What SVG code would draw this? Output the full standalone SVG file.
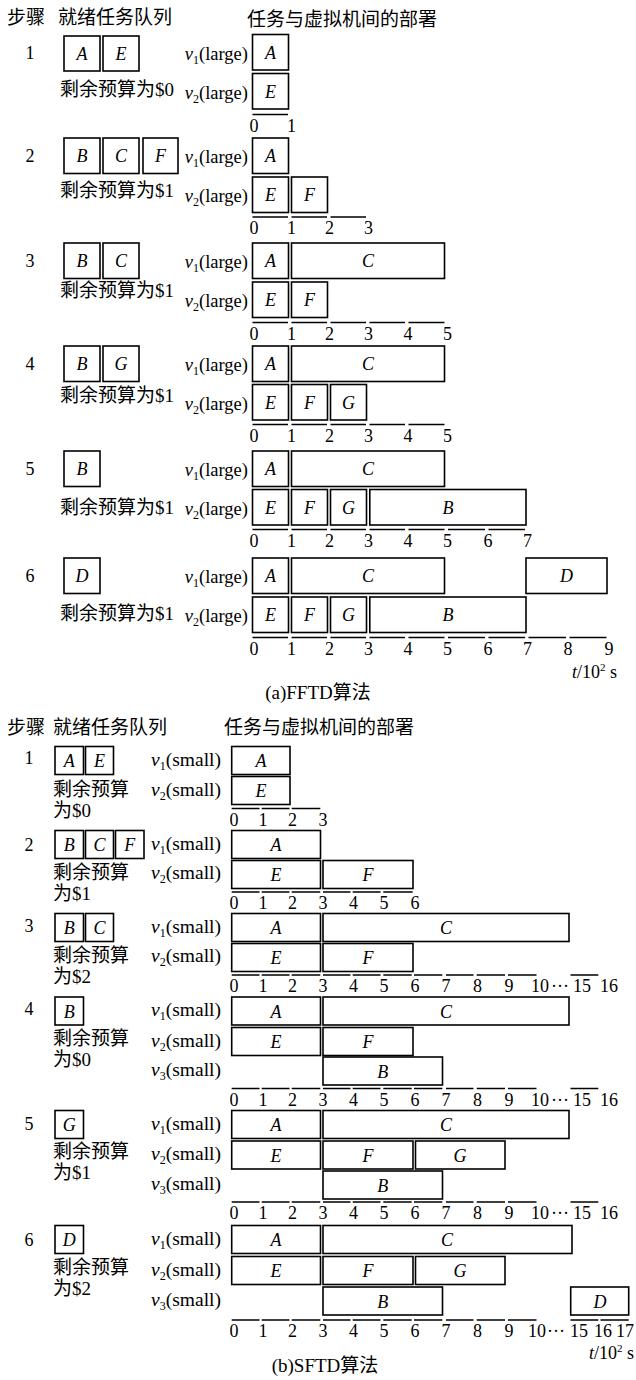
<svg xmlns="http://www.w3.org/2000/svg" width="636" height="1380" viewBox="0 0 636 1380">
<style>
.bx{fill:#fff;stroke:#000;stroke-width:1.6}
.ax{stroke:#000;stroke-width:1.5;fill:none}
text{font-family:"Liberation Serif","Noto Sans CJK SC",serif;font-size:18px;fill:#000}
.lt{font-style:italic;text-anchor:middle}
.tk{text-anchor:middle}
.va{text-anchor:end;font-size:18.5px}
.vb{text-anchor:end;font-size:19.5px}
.sub{font-size:12px}
.cj{font-size:19px}
.it{font-style:italic}
</style>
<rect width="636" height="1380" fill="#fff"/>

<!-- ================= Part (a) ================= -->
<g id="a-header">
<text class="cj" x="7" y="24">步骤</text>
<text class="cj" x="58" y="24">就绪任务队列</text>
<text class="cj" x="247" y="26">任务与虚拟机间的部署</text>
</g>

<!-- Step 1 -->
<g id="a-s1">
<text x="30" y="59" class="tk">1</text>
<g id="a1-q-A"><rect class="bx" x="64" y="36" width="36" height="35"/><text class="lt" x="82" y="60">A</text></g>
<g id="a1-q-E"><rect class="bx" x="103" y="36" width="36" height="35"/><text class="lt" x="121" y="60">E</text></g>
<text class="cj" x="60" y="96">剩余预算为$0</text>
<text class="va" x="248" y="59.5"><tspan class="it">v</tspan><tspan class="sub" dy="4">1</tspan><tspan dy="-4">(large)</tspan></text>
<text class="va" x="248" y="98.5"><tspan class="it">v</tspan><tspan class="sub" dy="4">2</tspan><tspan dy="-4">(large)</tspan></text>
<g id="a1-v1-A"><rect class="bx" x="252.5" y="34.5" width="36" height="35.5"/><text class="lt" x="270.5" y="58.5">A</text></g>
<g id="a1-v2-E"><rect class="bx" x="252.5" y="73.5" width="36" height="35.5"/><text class="lt" x="270.5" y="97.5">E</text></g>
</g>

<!-- Step 2 -->
<g id="a-s2">
<text x="30" y="161.5" class="tk">2</text>
<g id="a2-q-B"><rect class="bx" x="64" y="138" width="36" height="35.5"/><text class="lt" x="82" y="162">B</text></g>
<g id="a2-q-C"><rect class="bx" x="103" y="138" width="36" height="35.5"/><text class="lt" x="121" y="162">C</text></g>
<g id="a2-q-F"><rect class="bx" x="143" y="138" width="35" height="35.5"/><text class="lt" x="160.5" y="162">F</text></g>
<text class="cj" x="60" y="197">剩余预算为$1</text>
<text class="va" x="248" y="163"><tspan class="it">v</tspan><tspan class="sub" dy="4">1</tspan><tspan dy="-4">(large)</tspan></text>
<text class="va" x="248" y="202"><tspan class="it">v</tspan><tspan class="sub" dy="4">2</tspan><tspan dy="-4">(large)</tspan></text>
<g id="a2-v1-A"><rect class="bx" x="252.5" y="138" width="36" height="35.5"/><text class="lt" x="270.5" y="162">A</text></g>
<g id="a2-v2-E"><rect class="bx" x="252.5" y="177" width="36" height="35.5"/><text class="lt" x="270.5" y="201">E</text></g>
<g id="a2-v2-F"><rect class="bx" x="291.5" y="177" width="36" height="35.5"/><text class="lt" x="309.5" y="201">F</text></g>
</g>

<!-- Step 3 -->
<g id="a-s3">
<text x="30" y="266.5" class="tk">3</text>
<g id="a3-q-B"><rect class="bx" x="64" y="243" width="36" height="35.5"/><text class="lt" x="82" y="267">B</text></g>
<g id="a3-q-C"><rect class="bx" x="103" y="243" width="36" height="35.5"/><text class="lt" x="121" y="267">C</text></g>
<text class="cj" x="60" y="297">剩余预算为$1</text>
<text class="va" x="248" y="268"><tspan class="it">v</tspan><tspan class="sub" dy="4">1</tspan><tspan dy="-4">(large)</tspan></text>
<text class="va" x="248" y="307"><tspan class="it">v</tspan><tspan class="sub" dy="4">2</tspan><tspan dy="-4">(large)</tspan></text>
<g id="a3-v1-A"><rect class="bx" x="252.5" y="243" width="36" height="35.5"/><text class="lt" x="270.5" y="267">A</text></g>
<g id="a3-v1-C"><rect class="bx" x="291.5" y="243" width="153" height="35.5"/><text class="lt" x="368" y="267">C</text></g>
<g id="a3-v2-E"><rect class="bx" x="252.5" y="282" width="36" height="35.5"/><text class="lt" x="270.5" y="306">E</text></g>
<g id="a3-v2-F"><rect class="bx" x="291.5" y="282" width="36" height="35.5"/><text class="lt" x="309.5" y="306">F</text></g>
</g>

<!-- Step 4 -->
<g id="a-s4">
<text x="30" y="369.5" class="tk">4</text>
<g id="a4-q-B"><rect class="bx" x="64" y="346" width="36" height="35.5"/><text class="lt" x="82" y="370">B</text></g>
<g id="a4-q-G"><rect class="bx" x="103" y="346" width="36" height="35.5"/><text class="lt" x="121" y="370">G</text></g>
<text class="cj" x="60" y="402">剩余预算为$1</text>
<text class="va" x="248" y="371"><tspan class="it">v</tspan><tspan class="sub" dy="4">1</tspan><tspan dy="-4">(large)</tspan></text>
<text class="va" x="248" y="409.5"><tspan class="it">v</tspan><tspan class="sub" dy="4">2</tspan><tspan dy="-4">(large)</tspan></text>
<g id="a4-v1-A"><rect class="bx" x="252.5" y="346" width="36" height="35.5"/><text class="lt" x="270.5" y="370">A</text></g>
<g id="a4-v1-C"><rect class="bx" x="291.5" y="346" width="153" height="35.5"/><text class="lt" x="368" y="370">C</text></g>
<g id="a4-v2-E"><rect class="bx" x="252.5" y="384.5" width="36" height="35.5"/><text class="lt" x="270.5" y="408.5">E</text></g>
<g id="a4-v2-F"><rect class="bx" x="291.5" y="384.5" width="36" height="35.5"/><text class="lt" x="309.5" y="408.5">F</text></g>
<g id="a4-v2-G"><rect class="bx" x="330.5" y="384.5" width="36" height="35.5"/><text class="lt" x="348.5" y="408.5">G</text></g>
</g>

<!-- Step 5 -->
<g id="a-s5">
<text x="30" y="474.5" class="tk">5</text>
<g id="a5-q-B"><rect class="bx" x="64" y="451" width="36" height="35.5"/><text class="lt" x="82" y="475">B</text></g>
<text class="cj" x="60" y="514">剩余预算为$1</text>
<text class="va" x="248" y="476"><tspan class="it">v</tspan><tspan class="sub" dy="4">1</tspan><tspan dy="-4">(large)</tspan></text>
<text class="va" x="248" y="514.5"><tspan class="it">v</tspan><tspan class="sub" dy="4">2</tspan><tspan dy="-4">(large)</tspan></text>
<g id="a5-v1-A"><rect class="bx" x="252.5" y="451" width="36" height="35.5"/><text class="lt" x="270.5" y="475">A</text></g>
<g id="a5-v1-C"><rect class="bx" x="291.5" y="451" width="153" height="35.5"/><text class="lt" x="368" y="475">C</text></g>
<g id="a5-v2-E"><rect class="bx" x="252.5" y="489.5" width="36" height="35.5"/><text class="lt" x="270.5" y="513.5">E</text></g>
<g id="a5-v2-F"><rect class="bx" x="291.5" y="489.5" width="36" height="35.5"/><text class="lt" x="309.5" y="513.5">F</text></g>
<g id="a5-v2-G"><rect class="bx" x="330.5" y="489.5" width="36" height="35.5"/><text class="lt" x="348.5" y="513.5">G</text></g>
<g id="a5-v2-B"><rect class="bx" x="369.8" y="489.5" width="156.2" height="35.5"/><text class="lt" x="448" y="513.5">B</text></g>
</g>

<!-- Step 6 -->
<g id="a-s6">
<text x="30" y="582" class="tk">6</text>
<g id="a6-q-D"><rect class="bx" x="64" y="558" width="36" height="35.5"/><text class="lt" x="82" y="582">D</text></g>
<text class="cj" x="60" y="620">剩余预算为$1</text>
<text class="va" x="248" y="583"><tspan class="it">v</tspan><tspan class="sub" dy="4">1</tspan><tspan dy="-4">(large)</tspan></text>
<text class="va" x="248" y="622"><tspan class="it">v</tspan><tspan class="sub" dy="4">2</tspan><tspan dy="-4">(large)</tspan></text>
<g id="a6-v1-A"><rect class="bx" x="252.5" y="558" width="36" height="35.5"/><text class="lt" x="270.5" y="582">A</text></g>
<g id="a6-v1-C"><rect class="bx" x="291.5" y="558" width="153" height="35.5"/><text class="lt" x="368" y="582">C</text></g>
<g id="a6-v1-D"><rect class="bx" x="526" y="558" width="81" height="35.5"/><text class="lt" x="566.5" y="582">D</text></g>
<g id="a6-v2-E"><rect class="bx" x="252.5" y="597" width="36" height="35.5"/><text class="lt" x="270.5" y="621">E</text></g>
<g id="a6-v2-F"><rect class="bx" x="291.5" y="597" width="36" height="35.5"/><text class="lt" x="309.5" y="621">F</text></g>
<g id="a6-v2-G"><rect class="bx" x="330.5" y="597" width="36" height="35.5"/><text class="lt" x="348.5" y="621">G</text></g>
<g id="a6-v2-B"><rect class="bx" x="369.8" y="597" width="156.2" height="35.5"/><text class="lt" x="448" y="621">B</text></g>
</g>

<g id="a-axes">
<path class="ax" d="M252.5 114.5H288"/>
<path class="ax" d="M252.5 217H288M291.5 217H327M330.5 217H366"/>
<path class="ax" d="M252.5 322.5H288M291.5 322.5H327M330.5 322.5H366M369.5 322.5H405M408.5 322.5H444.5"/>
<path class="ax" d="M252.5 424.5H288M291.5 424.5H327M330.5 424.5H366M369.5 424.5H405M408.5 424.5H444.5"/>
<path class="ax" d="M252.5 529.5H288M291.5 529.5H327M330.5 529.5H366M369.5 529.5H405M408.5 529.5H444.5M448 529.5H485M488.5 529.5H525"/>
<path class="ax" d="M252.5 637.5H288M291.5 637.5H327M330.5 637.5H366M369.5 637.5H405M408.5 637.5H444.5M448 637.5H485M488.5 637.5H525M528.5 637.5H566M569.5 637.5H606.5"/>
</g>
<g id="a-ticks" class="tk">
<text class="tk" x="254" y="131.5">0</text><text class="tk" x="291.5" y="131.5">1</text>
<text class="tk" x="254" y="234">0</text><text class="tk" x="291.5" y="234">1</text><text class="tk" x="329.5" y="234">2</text><text class="tk" x="368.5" y="234">3</text>
<text class="tk" x="254" y="339.5">0</text><text class="tk" x="291.5" y="339.5">1</text><text class="tk" x="329.5" y="339.5">2</text><text class="tk" x="368.5" y="339.5">3</text><text class="tk" x="408" y="339.5">4</text><text class="tk" x="447.5" y="339.5">5</text>
<text class="tk" x="254" y="441.5">0</text><text class="tk" x="291.5" y="441.5">1</text><text class="tk" x="329.5" y="441.5">2</text><text class="tk" x="368.5" y="441.5">3</text><text class="tk" x="408" y="441.5">4</text><text class="tk" x="447.5" y="441.5">5</text>
<text class="tk" x="254" y="546.5">0</text><text class="tk" x="291.5" y="546.5">1</text><text class="tk" x="329.5" y="546.5">2</text><text class="tk" x="368.5" y="546.5">3</text><text class="tk" x="408" y="546.5">4</text><text class="tk" x="447.5" y="546.5">5</text><text class="tk" x="488" y="546.5">6</text><text class="tk" x="527.5" y="546.5">7</text>
<text class="tk" x="254" y="654.5">0</text><text class="tk" x="291.5" y="654.5">1</text><text class="tk" x="329.5" y="654.5">2</text><text class="tk" x="368.5" y="654.5">3</text><text class="tk" x="408" y="654.5">4</text><text class="tk" x="447.5" y="654.5">5</text><text class="tk" x="488" y="654.5">6</text><text class="tk" x="527.5" y="654.5">7</text><text class="tk" x="568" y="654.5">8</text><text class="tk" x="609" y="654.5">9</text>
</g>
<text x="617" y="678" text-anchor="end"><tspan class="it">t</tspan>/10<tspan font-size="11" dy="-7">2</tspan><tspan dy="7"> s</tspan></text>
<text class="cj" x="318" y="699" text-anchor="middle">(a)FFTD算法</text>

<!-- ================= Part (b) ================= -->
<g id="b-header">
<text class="cj" x="7" y="734">步骤</text>
<text class="cj" x="53" y="734">就绪任务队列</text>
<text class="cj" x="224" y="734">任务与虚拟机间的部署</text>
</g>

<!-- Step 1 -->
<g id="b-s1">
<text x="29" y="764" class="tk">1</text>
<g id="b1-q-A"><rect class="bx" x="55" y="746.5" width="28.5" height="28"/><text class="lt" x="69.3" y="767">A</text></g>
<g id="b1-q-E"><rect class="bx" x="85.5" y="746.5" width="28" height="28"/><text class="lt" x="99.5" y="767">E</text></g>
<text class="cj" x="53" y="796">剩余预算</text>
<text class="cj" x="53" y="817">为$0</text>
<text class="vb" x="221" y="766"><tspan class="it">v</tspan><tspan class="sub" dy="4">1</tspan><tspan dy="-4">(small)</tspan></text>
<text class="vb" x="221" y="796"><tspan class="it">v</tspan><tspan class="sub" dy="4">2</tspan><tspan dy="-4">(small)</tspan></text>
<g id="b1-v1-A"><rect class="bx" x="231.7" y="746.5" width="58.3" height="28"/><text class="lt" x="261" y="767">A</text></g>
<g id="b1-v2-E"><rect class="bx" x="231.7" y="776.5" width="58.3" height="28"/><text class="lt" x="261" y="797">E</text></g>
</g>

<!-- Step 2 -->
<g id="b-s2">
<text x="29" y="851" class="tk">2</text>
<g id="b2-q-B"><rect class="bx" x="55" y="830.5" width="28.5" height="28"/><text class="lt" x="69.3" y="851">B</text></g>
<g id="b2-q-C"><rect class="bx" x="85.5" y="830.5" width="28" height="28"/><text class="lt" x="99.5" y="851">C</text></g>
<g id="b2-q-F"><rect class="bx" x="115.5" y="830.5" width="28.5" height="28"/><text class="lt" x="129.7" y="851">F</text></g>
<text class="cj" x="53" y="879">剩余预算</text>
<text class="cj" x="53" y="900">为$1</text>
<text class="vb" x="221" y="850"><tspan class="it">v</tspan><tspan class="sub" dy="4">1</tspan><tspan dy="-4">(small)</tspan></text>
<text class="vb" x="221" y="879"><tspan class="it">v</tspan><tspan class="sub" dy="4">2</tspan><tspan dy="-4">(small)</tspan></text>
<g id="b2-v1-A"><rect class="bx" x="231.7" y="830.5" width="88.8" height="28"/><text class="lt" x="276" y="851">A</text></g>
<g id="b2-v2-E"><rect class="bx" x="231.7" y="860.5" width="88.8" height="28"/><text class="lt" x="276" y="881">E</text></g>
<g id="b2-v2-F"><rect class="bx" x="323" y="860.5" width="90" height="28"/><text class="lt" x="368" y="881">F</text></g>
</g>

<!-- Step 3 -->
<g id="b-s3">
<text x="29" y="932" class="tk">3</text>
<g id="b3-q-B"><rect class="bx" x="55" y="913.5" width="28.5" height="28"/><text class="lt" x="69.3" y="934">B</text></g>
<g id="b3-q-C"><rect class="bx" x="85.5" y="913.5" width="28" height="28"/><text class="lt" x="99.5" y="934">C</text></g>
<text class="cj" x="53" y="962">剩余预算</text>
<text class="cj" x="53" y="983">为$2</text>
<text class="vb" x="221" y="933"><tspan class="it">v</tspan><tspan class="sub" dy="4">1</tspan><tspan dy="-4">(small)</tspan></text>
<text class="vb" x="221" y="962"><tspan class="it">v</tspan><tspan class="sub" dy="4">2</tspan><tspan dy="-4">(small)</tspan></text>
<g id="b3-v1-A"><rect class="bx" x="231.7" y="913.5" width="88.8" height="28"/><text class="lt" x="276" y="934">A</text></g>
<g id="b3-v1-C"><rect class="bx" x="323" y="913.5" width="246" height="28"/><text class="lt" x="446" y="934">C</text></g>
<g id="b3-v2-E"><rect class="bx" x="231.7" y="943.5" width="88.8" height="28"/><text class="lt" x="276" y="964">E</text></g>
<g id="b3-v2-F"><rect class="bx" x="323" y="943.5" width="90" height="28"/><text class="lt" x="368" y="964">F</text></g>
</g>

<!-- Step 4 -->
<g id="b-s4">
<text x="29" y="1014.5" class="tk">4</text>
<g id="b4-q-B"><rect class="bx" x="55" y="997" width="28.5" height="28"/><text class="lt" x="69.3" y="1017.5">B</text></g>
<text class="cj" x="53" y="1045">剩余预算</text>
<text class="cj" x="53" y="1066">为$0</text>
<text class="vb" x="221" y="1016"><tspan class="it">v</tspan><tspan class="sub" dy="4">1</tspan><tspan dy="-4">(small)</tspan></text>
<text class="vb" x="221" y="1046.5"><tspan class="it">v</tspan><tspan class="sub" dy="4">2</tspan><tspan dy="-4">(small)</tspan></text>
<text class="vb" x="221" y="1076"><tspan class="it">v</tspan><tspan class="sub" dy="4">3</tspan><tspan dy="-4">(small)</tspan></text>
<g id="b4-v1-A"><rect class="bx" x="231.7" y="997" width="88.8" height="28"/><text class="lt" x="276" y="1017.5">A</text></g>
<g id="b4-v1-C"><rect class="bx" x="323" y="997" width="246" height="28"/><text class="lt" x="446" y="1017.5">C</text></g>
<g id="b4-v2-E"><rect class="bx" x="231.7" y="1027.5" width="88.8" height="28"/><text class="lt" x="276" y="1048">E</text></g>
<g id="b4-v2-F"><rect class="bx" x="323" y="1027.5" width="90" height="28"/><text class="lt" x="368" y="1048">F</text></g>
<g id="b4-v3-B"><rect class="bx" x="323" y="1057" width="119.5" height="28"/><text class="lt" x="382.7" y="1077.5">B</text></g>
</g>

<!-- Step 5 -->
<g id="b-s5">
<text x="29" y="1130" class="tk">5</text>
<g id="b5-q-G"><rect class="bx" x="55" y="1110.5" width="28.5" height="28"/><text class="lt" x="69.3" y="1131">G</text></g>
<text class="cj" x="53" y="1158">剩余预算</text>
<text class="cj" x="53" y="1179">为$1</text>
<text class="vb" x="221" y="1129.5"><tspan class="it">v</tspan><tspan class="sub" dy="4">1</tspan><tspan dy="-4">(small)</tspan></text>
<text class="vb" x="221" y="1160"><tspan class="it">v</tspan><tspan class="sub" dy="4">2</tspan><tspan dy="-4">(small)</tspan></text>
<text class="vb" x="221" y="1190"><tspan class="it">v</tspan><tspan class="sub" dy="4">3</tspan><tspan dy="-4">(small)</tspan></text>
<g id="b5-v1-A"><rect class="bx" x="231.7" y="1110.5" width="88.8" height="28"/><text class="lt" x="276" y="1131">A</text></g>
<g id="b5-v1-C"><rect class="bx" x="323" y="1110.5" width="246" height="28"/><text class="lt" x="446" y="1131">C</text></g>
<g id="b5-v2-E"><rect class="bx" x="231.7" y="1141" width="88.8" height="28"/><text class="lt" x="276" y="1161.5">E</text></g>
<g id="b5-v2-F"><rect class="bx" x="323" y="1141" width="90" height="28"/><text class="lt" x="368" y="1161.5">F</text></g>
<g id="b5-v2-G"><rect class="bx" x="415.5" y="1141" width="89.5" height="28"/><text class="lt" x="460" y="1161.5">G</text></g>
<g id="b5-v3-B"><rect class="bx" x="323" y="1171" width="119.5" height="28"/><text class="lt" x="382.7" y="1191.5">B</text></g>
</g>

<!-- Step 6 -->
<g id="b-s6">
<text x="29" y="1246" class="tk">6</text>
<g id="b6-q-D"><rect class="bx" x="55" y="1225.5" width="28.5" height="28"/><text class="lt" x="69.3" y="1246">D</text></g>
<text class="cj" x="53" y="1274">剩余预算</text>
<text class="cj" x="53" y="1295">为$2</text>
<text class="vb" x="221" y="1244.5"><tspan class="it">v</tspan><tspan class="sub" dy="4">1</tspan><tspan dy="-4">(small)</tspan></text>
<text class="vb" x="221" y="1275.5"><tspan class="it">v</tspan><tspan class="sub" dy="4">2</tspan><tspan dy="-4">(small)</tspan></text>
<text class="vb" x="221" y="1306"><tspan class="it">v</tspan><tspan class="sub" dy="4">3</tspan><tspan dy="-4">(small)</tspan></text>
<g id="b6-v1-A"><rect class="bx" x="231.7" y="1225.5" width="88.8" height="28"/><text class="lt" x="276" y="1246">A</text></g>
<g id="b6-v1-C"><rect class="bx" x="323" y="1225.5" width="249" height="28"/><text class="lt" x="447" y="1246">C</text></g>
<g id="b6-v2-E"><rect class="bx" x="231.7" y="1256.5" width="88.8" height="28"/><text class="lt" x="276" y="1277">E</text></g>
<g id="b6-v2-F"><rect class="bx" x="323" y="1256.5" width="90" height="28"/><text class="lt" x="368" y="1277">F</text></g>
<g id="b6-v2-G"><rect class="bx" x="415.5" y="1256.5" width="89.5" height="28"/><text class="lt" x="460" y="1277">G</text></g>
<g id="b6-v3-B"><rect class="bx" x="323" y="1287" width="119.5" height="28"/><text class="lt" x="382.7" y="1307.5">B</text></g>
<g id="b6-v3-D"><rect class="bx" x="570.7" y="1287" width="58" height="28"/><text class="lt" x="600" y="1307.5">D</text></g>
</g>

<g id="b-axes">
<path class="ax" d="M231.7 808.5H259.5M261.7 808.5H289.5M291.7 808.5H320.3"/>
<path class="ax" d="M231.7 892H259.5M261.7 892H289.5M291.7 892H320.3M323 892H350.5M352.7 892H380.5M383.3 892H412.7"/>
<path class="ax" d="M231.7 975H259.5M261.7 975H289.5M291.7 975H320.3M323 975H350.5M352.7 975H380.5M383.3 975H411.7M414 975H442.3M446 975H473.5M476.7 975H505M508 975H536.5M570.5 975H598.3"/>
<path class="ax" d="M231.7 1088.5H259.5M261.7 1088.5H289.5M291.7 1088.5H320.3M323 1088.5H350.5M352.7 1088.5H380.5M383.3 1088.5H411.7M414 1088.5H442.3M446 1088.5H473.5M476.7 1088.5H505M508 1088.5H536.5M570.5 1088.5H598.3"/>
<path class="ax" d="M231.7 1202H259.5M261.7 1202H289.5M291.7 1202H320.3M323 1202H350.5M352.7 1202H380.5M383.3 1202H411.7M414 1202H442.3M446 1202H473.5M476.7 1202H505M508 1202H536.5M570.5 1202H598.3"/>
<path class="ax" d="M231.7 1320H259.5M261.7 1320H289.5M291.7 1320H320.3M323 1320H350.5M352.7 1320H380.5M383.3 1320H411.7M414 1320H442.3M446 1320H473.5M476.7 1320H505M508 1320H536.5M570.5 1320H598.3M600.5 1320H628.7"/>
</g>
<g id="b-ticks">
<text class="tk" x="234" y="825.5">0</text><text class="tk" x="263" y="825.5">1</text><text class="tk" x="292.5" y="825.5">2</text><text class="tk" x="323" y="825.5">3</text>
<text class="tk" x="234" y="909">0</text><text class="tk" x="263" y="909">1</text><text class="tk" x="292.5" y="909">2</text><text class="tk" x="323" y="909">3</text><text class="tk" x="353.5" y="909">4</text><text class="tk" x="384" y="909">5</text><text class="tk" x="415" y="909">6</text>
<text class="tk" x="234" y="992">0</text><text class="tk" x="263" y="992">1</text><text class="tk" x="292.5" y="992">2</text><text class="tk" x="323" y="992">3</text><text class="tk" x="353.5" y="992">4</text><text class="tk" x="384" y="992">5</text><text class="tk" x="415" y="992">6</text><text class="tk" x="446" y="992">7</text><text class="tk" x="477.5" y="992">8</text><text class="tk" x="509" y="992">9</text><text class="tk" x="540" y="992">10</text><text class="tk" x="560" y="992">···</text><text class="tk" x="582" y="992">15</text><text class="tk" x="609" y="992">16</text>
<text class="tk" x="234" y="1105.5">0</text><text class="tk" x="263" y="1105.5">1</text><text class="tk" x="292.5" y="1105.5">2</text><text class="tk" x="323" y="1105.5">3</text><text class="tk" x="353.5" y="1105.5">4</text><text class="tk" x="384" y="1105.5">5</text><text class="tk" x="415" y="1105.5">6</text><text class="tk" x="446" y="1105.5">7</text><text class="tk" x="477.5" y="1105.5">8</text><text class="tk" x="509" y="1105.5">9</text><text class="tk" x="540" y="1105.5">10</text><text class="tk" x="560" y="1105.5">···</text><text class="tk" x="582" y="1105.5">15</text><text class="tk" x="609" y="1105.5">16</text>
<text class="tk" x="234" y="1219">0</text><text class="tk" x="263" y="1219">1</text><text class="tk" x="292.5" y="1219">2</text><text class="tk" x="323" y="1219">3</text><text class="tk" x="353.5" y="1219">4</text><text class="tk" x="384" y="1219">5</text><text class="tk" x="415" y="1219">6</text><text class="tk" x="446" y="1219">7</text><text class="tk" x="477.5" y="1219">8</text><text class="tk" x="509" y="1219">9</text><text class="tk" x="540" y="1219">10</text><text class="tk" x="560" y="1219">···</text><text class="tk" x="582" y="1219">15</text><text class="tk" x="609" y="1219">16</text>
<text class="tk" x="234" y="1337">0</text><text class="tk" x="263" y="1337">1</text><text class="tk" x="292.5" y="1337">2</text><text class="tk" x="323" y="1337">3</text><text class="tk" x="353.5" y="1337">4</text><text class="tk" x="384" y="1337">5</text><text class="tk" x="415" y="1337">6</text><text class="tk" x="446" y="1337">7</text><text class="tk" x="477.5" y="1337">8</text><text class="tk" x="509" y="1337">9</text><text class="tk" x="537" y="1337">10</text><text class="tk" x="556" y="1337">···</text><text class="tk" x="579" y="1337">15</text><text class="tk" x="603" y="1337">16</text><text class="tk" x="625" y="1337">17</text>
</g>
<text x="634" y="1359" text-anchor="end"><tspan class="it">t</tspan>/10<tspan font-size="11" dy="-7">2</tspan><tspan dy="7"> s</tspan></text>
<text class="cj" x="325" y="1372" text-anchor="middle">(b)SFTD算法</text>
<g id="connectors"/>
</svg>
